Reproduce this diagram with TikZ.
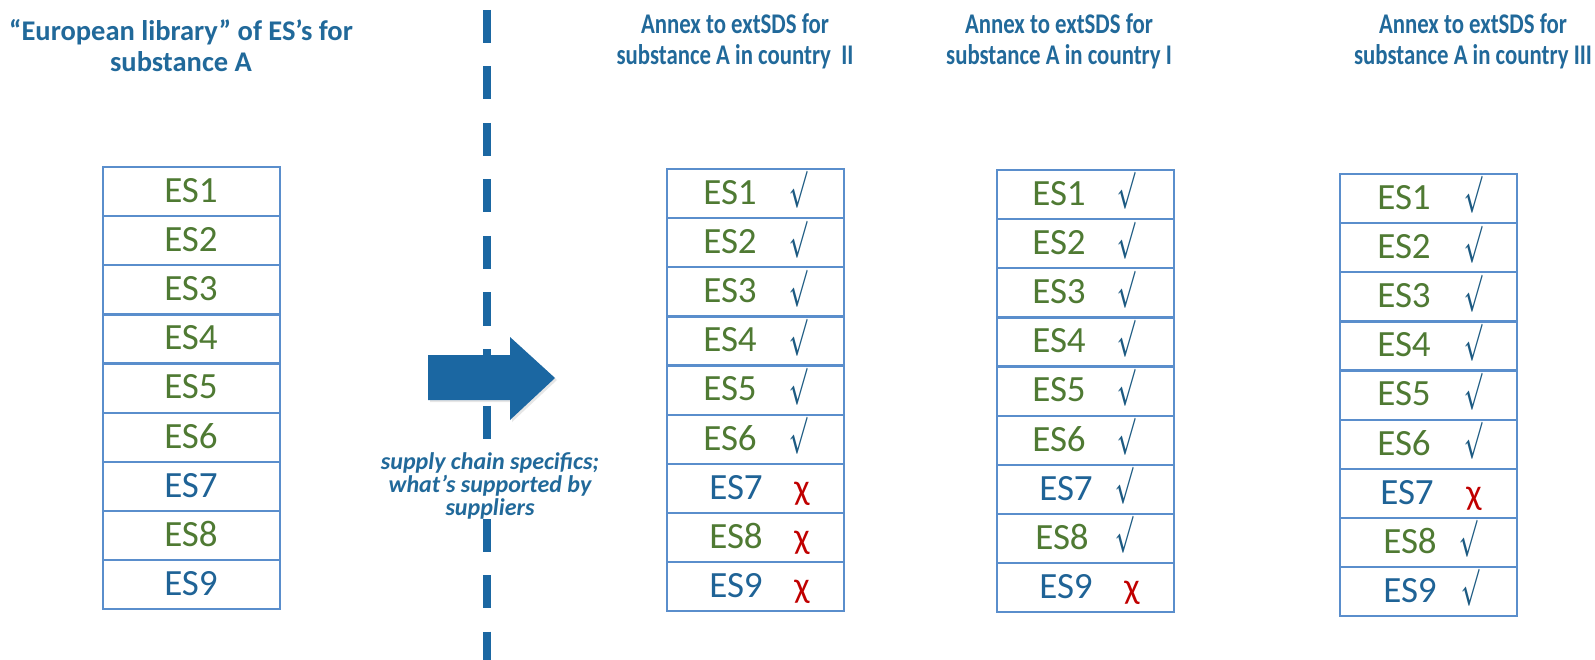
\documentclass[tikz,border=0pt]{standalone}
\usepackage{fontspec}
\usepackage{graphicx}
\setmainfont{Carlito}
\usetikzlibrary{shadows}

\definecolor{esgreen}{HTML}{4F7A33}
\definecolor{esblue}{HTML}{1F6396}
\definecolor{ttlblue}{HTML}{21699A}
\definecolor{arrowblue}{HTML}{1B67A2}
\definecolor{cellline}{HTML}{5A8ECC}
\definecolor{tickblue}{HTML}{1C5A82}
\definecolor{crossred}{HTML}{C00000}

% tall narrow radical used as the "supported" mark
\newcommand{\oktick}{\resizebox*{18pt}{37pt}{\boldmath$\surd$}}
% narrow setting of the annex headings
\newcommand{\narrowline}[1]{\scalebox{0.8}[1]{#1}}

\tikzset{
  cell/.style={draw=cellline, line width=2.2pt, anchor=north west, inner sep=0pt,
               minimum width=177pt, minimum height=49.1pt},
  eslabel/.style={anchor=base, inner sep=0pt, font=\fontsize{37}{40}\selectfont},
  markt/.style={anchor=north, inner sep=0pt, yshift=33pt, text=tickblue},
  markx/.style={anchor=base, inner sep=0pt, text=crossred, font=\fontsize{36}{40}\selectfont},
  heading/.style={anchor=base, inner sep=0pt, text=ttlblue, font=\bfseries\fontsize{28.5}{31}\selectfont},
  dashline/.style={draw=arrowblue, line width=8pt, dash pattern=on 33pt off 23.5pt},
  note/.style={align=center, fill=white, inner sep=0pt, text=ttlblue,
               font=\bfseries\itshape\fontsize{24}{23}\selectfont},
}

\begin{document}
\begin{tikzpicture}[x=1pt, y=-1pt]
\useasboundingbox (0,0) rectangle (1595,660);

% separator between the library and the national annexes
\coordinate (dtop) at (487,10);
\coordinate (dbot) at (487,662);
\draw[dashline] (dtop) -- (dbot);

% block arrow
\fill[arrowblue, drop shadow={opacity=0.2, shadow xshift=2pt, shadow yshift=-2pt}]
  (428,355) -- (510,355) -- (510,337) -- (555,378) -- (510,420) -- (510,400) -- (428,400) -- cycle;

\node[note] (why) at (490,486) {supply chain specifics;\\what’s supported by\\suppliers};

% headings
\node[heading] (hL1) at (181,41) {“European library” of ES’s for};
\node[heading] (hL2) at (181,72) {substance A};
\node[heading] (hA1) at (735,34) {\narrowline{Annex to extSDS for}};
\node[heading] (hA2) at (735,65) {\narrowline{substance A in country~~II}};
\node[heading] (hB1) at (1059,34) {\narrowline{Annex to extSDS for}};
\node[heading] (hB2) at (1059,65) {\narrowline{substance A in country I}};
\node[heading] (hC1) at (1473,34) {\narrowline{Annex to extSDS for}};
\node[heading] (hC2) at (1473,65) {\narrowline{substance A in country III}};

% European library
\foreach \i/\c in {1/esgreen,2/esgreen,3/esgreen,4/esgreen,5/esgreen,6/esgreen,7/esblue,8/esgreen,9/esblue}{
  \node[cell] (L\i) at (102,{166+(\i-1)*49.1}) {};
  \node[eslabel, text=\c] (Lt\i) at (191,{166+(\i-1)*49.1+36.5}) {ES\i};
}

% annex, country II
\foreach \i/\c/\ex/\m/\mx in {1/esgreen/730/t/798,2/esgreen/730/t/798,3/esgreen/730/t/798,
    4/esgreen/730/t/798,5/esgreen/730/t/798,6/esgreen/730/t/798,
    7/esblue/736/x/802,8/esgreen/736/x/802,9/esblue/736/x/802}{
  \node[cell] (A\i) at (666,{168+(\i-1)*49.1}) {};
  \node[eslabel, text=\c] (At\i) at (\ex,{168+(\i-1)*49.1+36.5}) {ES\i};
  \node[mark\m] (Am\i) at (\mx,{168+(\i-1)*49.1+36.5}) {\if t\m\oktick\else χ\fi};
}

% annex, country I
\foreach \i/\c/\ex/\m/\mx in {1/esgreen/1059/t/1126,2/esgreen/1059/t/1126,3/esgreen/1059/t/1126,
    4/esgreen/1059/t/1126,5/esgreen/1059/t/1126,6/esgreen/1059/t/1126,
    7/esblue/1066/t/1124,8/esgreen/1062/t/1124,9/esblue/1066/x/1132}{
  \node[cell] (B\i) at (996,{169+(\i-1)*49.1}) {};
  \node[eslabel, text=\c] (Bt\i) at (\ex,{169+(\i-1)*49.1+36.5}) {ES\i};
  \node[mark\m] (Bm\i) at (\mx,{169+(\i-1)*49.1+36.5}) {\if t\m\oktick\else χ\fi};
}

% annex, country III
\foreach \i/\c/\ex/\m/\mx in {1/esgreen/1404/t/1473,2/esgreen/1404/t/1473,3/esgreen/1404/t/1473,
    4/esgreen/1404/t/1473,5/esgreen/1404/t/1473,6/esgreen/1404/t/1473,
    7/esblue/1407/x/1474,8/esgreen/1410/t/1468,9/esblue/1410/t/1470}{
  \node[cell] (C\i) at (1339,{173+(\i-1)*49.1}) {};
  \node[eslabel, text=\c] (Ct\i) at (\ex,{173+(\i-1)*49.1+36.5}) {ES\i};
  \node[mark\m] (Cm\i) at (\mx,{173+(\i-1)*49.1+36.5}) {\if t\m\oktick\else χ\fi};
}
\end{tikzpicture}
\end{document}
